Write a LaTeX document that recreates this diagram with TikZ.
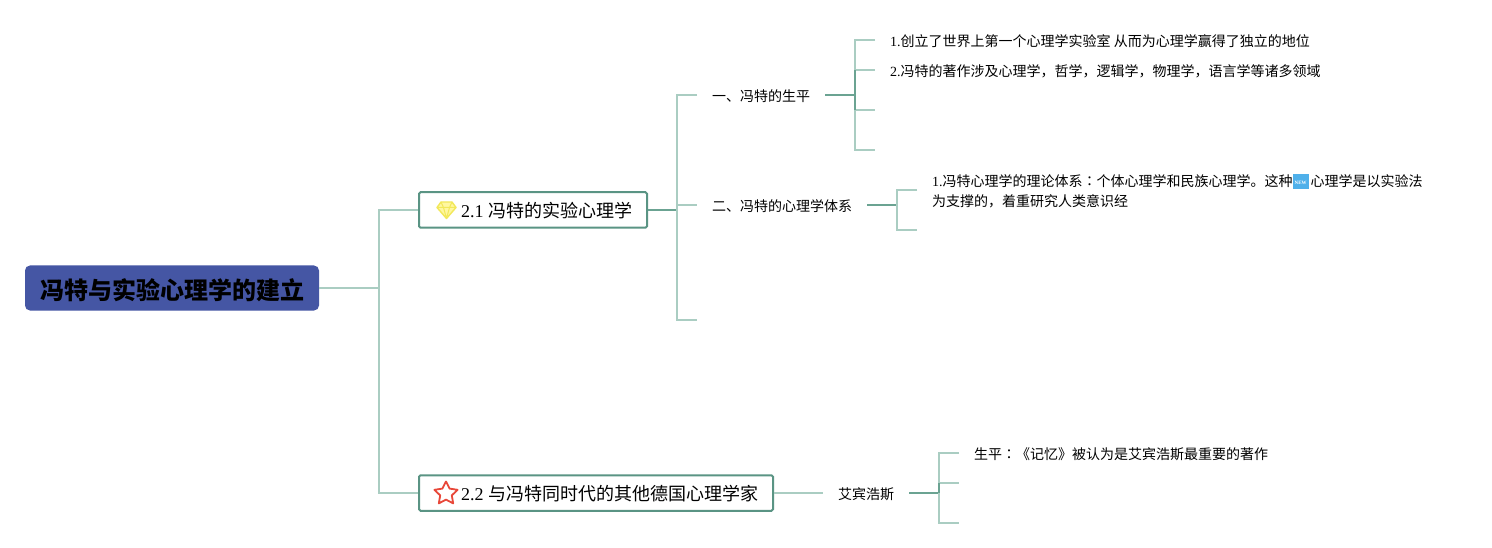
\documentclass[tikz,border=0pt]{standalone}
\usepackage{fontspec}
\setmainfont{Liberation Serif}
\newfontfamily\cjk{Noto Sans CJK SC}
\newfontfamily\cjktc{Noto Sans CJK TC}
\newcommand{\zh}[1]{{\cjk #1}}
\definecolor{lnlight}{HTML}{AACDC2}
\definecolor{lndark}{HTML}{6BA392}
\definecolor{rootfill}{HTML}{4556A4}
\definecolor{boxline}{HTML}{5A9484}
\definecolor{newblue}{HTML}{4FB0EA}
\definecolor{gemline}{HTML}{F2E85A}
\definecolor{gemfill}{HTML}{FFF7A0}
\definecolor{starline}{HTML}{E8483A}
\newcommand{\newicon}{\raisebox{-2.5pt}{\fboxsep=0pt\colorbox{newblue}{\makebox[16pt]{\rule{0pt}{15pt}\raisebox{5pt}{\color{white}\fontsize{5}{5}\selectfont\bfseries NEW}}}}\hspace{2pt}}
\tikzset{
  x=1pt,y=-1pt,
  rootbox/.style={fill=rootfill,rounded corners=5pt,minimum width=294pt,minimum height=45pt,inner sep=0pt},
  roottext/.style={inner sep=0pt,font=\fontsize{24}{28}\selectfont\cjk\bfseries},
  topicbox/.style={draw=boxline,line width=2pt,fill=white,rounded corners=1.5pt,minimum height=35.5pt,inner sep=0pt,font=\fontsize{18}{22}\selectfont},
  sub/.style={inner sep=0pt,anchor=west,font=\fontsize{14}{20}\selectfont},
  leaf/.style={inner sep=0pt,anchor=west,align=left,font=\fontsize{14}{20}\selectfont},
  lt/.style={draw=lnlight,line width=2pt},
  dk/.style={draw=lndark,line width=2pt},
}
\begin{document}
\begin{tikzpicture}
\useasboundingbox (0,0) rectangle (1492,548);
\fill[white] (0,0) rectangle (1492,548);
% free ends
\coordinate (r1) at (379,288);
\coordinate (j1) at (677,210);
\coordinate (e1) at (697,95);
\coordinate (e2) at (697,205);
\coordinate (e3) at (697,320);
\coordinate (j2) at (855,95);
\coordinate (f1) at (875,40);
\coordinate (f2) at (875,70);
\coordinate (f3) at (875,110);
\coordinate (f4) at (875,150);
\coordinate (j3) at (897,205);
\coordinate (g1) at (917,190);
\coordinate (g2) at (917,230);
\coordinate (j4) at (939,493);
\coordinate (h1) at (959,453);
\coordinate (h2) at (959,483);
\coordinate (h3) at (959,523);
\coordinate (s1e) at (825,95);
\coordinate (s2e) at (867,205);
\coordinate (s3w) at (823,493);
\coordinate (s3e) at (909,493);
% nodes
\node[rootbox] (root) at (172,288) {};
\node[roottext] (roottxt) at (172.5,290) {冯特与实验心理学的建立};
\node[topicbox,minimum width=228pt] (t1) at (533,210) {};
\node[topicbox,minimum width=354pt] (t2) at (596,493) {};
% connectors
\draw[lt] (root.east) -- (r1);
\draw[lt] (t1.west) -- (t1.west -| r1) -- (t2.west -| r1) -- (t2.west);
\draw[dk] (t1.east) -- (j1);
\draw[lt] (e1) -- (e1 -| j1) -- (e3 -| j1) -- (e3);
\draw[lt] (e2 -| j1) -- (e2);
\draw[lt] (t2.east) -- (s3w);
\draw[dk] (s1e) -- (j2);
\draw[lt] (f1) -- (f1 -| j2) -- (f4 -| j2) -- (f4);
\draw[lt] (f2 -| j2) -- (f2);
\draw[lt] (f3 -| j2) -- (f3);
\draw[dk] (f2 -| j2) -- (f3 -| j2);
\draw[dk] (s2e) -- (j3);
\draw[lt] (g1) -- (g1 -| j3) -- (g2 -| j3) -- (g2);
\draw[dk] (s3e) -- (j4);
\draw[lt] (h1) -- (h1 -| j4) -- (h3 -| j4) -- (h3);
\draw[lt] (h2 -| j4) -- (h2);
\draw[dk] (h2 -| j4) -- (j4);
% texts
\node[anchor=west,inner sep=0pt,font=\fontsize{18}{22}\selectfont] (t1text) at (461,211) {2.1 \zh{冯特的实验心理学}};
\node[anchor=west,inner sep=0pt,font=\fontsize{18}{22}\selectfont] (t2text) at (461,494) {2.2 \zh{与冯特同时代的其他德国心理学家}};
\node[sub] (s1) at (712,96) {\zh{一、冯特的生平}};
\node[sub] (s2) at (712,206) {\zh{二、冯特的心理学体系}};
\node[sub] (s3) at (838,494) {\zh{艾宾浩斯}};
\node[leaf] (a1) at (890,41.5) {1.\zh{创立了世界上第一个心理学实验室 从而为心理学赢得了独立的地位}};
\node[leaf] (a2) at (890,71.5) {2.\zh{冯特的著作涉及心理学，哲学，逻辑学，物理学，语言学等诸多领域}};
\node[leaf] (b1) at (932,191) {1.\zh{冯特心理学的理论体系}{\cjktc ：}\zh{个体心理学和民族心理学。这种}\newicon\zh{心理学是以实验法}\\[-0.5pt]\zh{为支撑的，着重研究人类意识经}};
\node[leaf] (c1) at (974,454) {\zh{生平}{\cjktc ：}\zh{《记忆》被认为是艾宾浩斯最重要的著作}};
% icons
\begin{scope}[line join=round]
\filldraw[draw=gemline,fill=gemfill,line width=1.4pt] (441,202) -- (452,202) -- (456,207.5) -- (446.5,218.5) -- (437,207.5) -- cycle;
\draw[gemline,line width=1pt] (437,207.5) -- (456,207.5) (441,202) -- (443.5,207.5) -- (446.5,218.5) -- (449.5,207.5) -- (452,202);
\draw[starline,line width=1.8pt,fill=white] (446,481.5) -- (449.6,488.6) -- (457.6,489.8) -- (451.8,495.4) -- (453.2,503.4) -- (446,499.6) -- (438.8,503.4) -- (440.2,495.4) -- (434.4,489.8) -- (442.4,488.6) -- cycle;
\end{scope}
\end{tikzpicture}
\end{document}
